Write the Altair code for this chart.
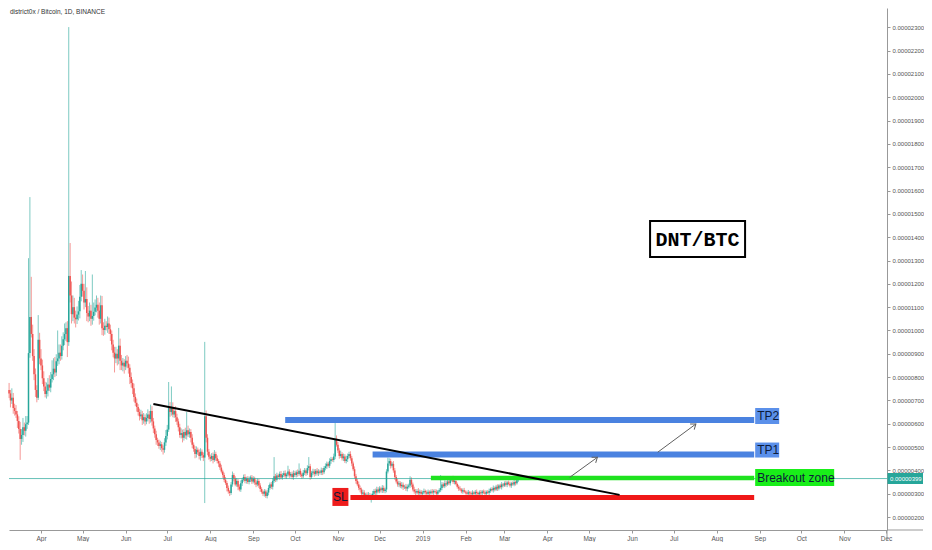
import altair as alt
import pandas as pd

# ---------------------------------------------------------------------------
# Data (prices in satoshi: 1 sat = 0.00000001 BTC), daily candles
# ---------------------------------------------------------------------------
first_day = "2018-03-09"
first_open = 745

closes = [
    # Mar 2018 (9th..31st)
    730, 700, 712, 668, 655, 640, 612, 578, 535, 552, 585, 570, 598, 605, 903, 1058, 985, 890, 812, 745, 712, 960, 880,
    # Apr 2018
    850, 795, 760, 728, 742, 768, 755, 792, 812, 836, 820, 868, 880, 905, 890, 935, 962, 985, 1010, 950,
    1234, 1150, 1070, 1100, 1055, 1048, 1068, 1082, 1145, 1200,
    # May 2018
    1170, 1120, 1135, 1075, 1060, 1085, 1050, 1062, 1080, 1098, 1110, 1085, 1050, 1108, 1010, 1002, 1020,
    1015, 1030, 1005, 985, 940, 905, 880, 900, 880, 935, 870, 850, 862, 845,
    # Jun 2018
    870, 858, 840, 800, 775, 752, 715, 690, 672, 650, 632, 640, 615, 628, 610, 625, 640, 620, 655, 610,
    580, 555, 530, 520, 505, 512, 495, 488, 520, 548,
    # Jul 2018
    575, 668, 650, 672, 640, 655, 628, 610, 585, 552, 560, 540, 565, 550, 572, 555, 565, 540, 510, 492,
    470, 488, 478, 462, 480, 465, 455, 632, 540, 480, 458,
    # Aug 2018
    450, 462, 445, 470, 452, 440, 430, 412, 395, 380, 360, 346, 325, 310, 303, 340, 380, 365, 340, 355,
    330, 318, 345, 360, 372, 355, 365, 350, 362, 370, 352,
    # Sep 2018
    365, 348, 340, 355, 335, 320, 308, 300, 310, 290, 305, 325, 340, 330, 355, 375, 360, 378, 372, 385,
    370, 380, 388, 375, 382, 395, 378, 385, 372, 388,
    # Oct 2018
    380, 392, 385, 398, 382, 375, 390, 400, 388, 410, 418, 372, 390, 395, 385, 398, 388, 395, 390, 400,
    392, 410, 418, 428, 420, 440, 448, 445, 460, 530, 510,
    # Nov 2018
    485, 462, 470, 452, 460, 440, 448, 462, 470, 452, 430, 405, 375, 355, 340, 325, 318, 300, 305, 292,
    296, 288, 295, 285, 290, 300, 312, 305, 318, 310,
    # Dec 2018
    322, 315, 325, 312, 318, 395, 430, 440, 420, 428, 400, 372, 352, 340, 345, 332, 338, 328, 330, 322,
    330, 335, 360, 340, 318, 310, 305, 312, 302, 308, 300,
    # Jan 2019
    305, 312, 306, 300, 308, 302, 310, 305, 312, 308, 300, 310, 315, 325, 340, 332, 345, 340, 352, 345,
    358, 365, 350, 355, 342, 330, 322, 318, 310, 315, 308,
    # Feb 2019
    305, 300, 306, 302, 298, 305, 300, 308, 303, 298, 306, 302, 310, 305, 300, 308, 304, 312, 320, 315,
    325, 318, 330, 322, 335, 328, 340, 335,
    # Mar 2019 (1st..11th)
    345, 338, 348, 342, 335, 345, 340, 350, 345, 358, 365,
]

# wick length above the candle body (sat)
up_wick = [
    30, 15, 40, 20, 18, 25, 15, 20, 30, 25, 40, 20, 35, 28, 407, 514, 172, 40, 30, 25, 20, 106, 30,
    40, 25, 30, 20, 35, 28, 40, 30, 60, 45, 50, 30, 120, 35, 35, 40, 30, 45, 25, 30, 1067, 141, 60, 50, 40, 30, 35, 45, 50, 59,
    40, 30, 120, 50, 30, 35, 25, 178, 40, 35, 40, 30, 35, 42, 40, 25, 30, 20, 30, 25, 20, 15, 20, 25, 30, 20, 76, 30, 25, 20, 15,
    20, 25, 30, 15, 20, 15, 20, 15, 18, 12, 15, 20, 15, 18, 12, 20, 22, 15, 27, 20, 15, 12, 15, 10, 12, 15, 10, 12, 18, 25,
    20, 111, 25, 88, 20, 15, 20, 15, 12, 15, 20, 15, 12, 18, 78, 20, 15, 12, 15, 10, 12, 15, 10, 12, 15, 10, 12, 319, 25, 15, 12,
    10, 12, 15, 17, 10, 12, 8, 10, 12, 8, 10, 12, 8, 10, 6, 10, 15, 8, 10, 12, 8, 10, 12, 8, 10, 12, 8, 10, 12, 8, 10,
    10, 8, 12, 10, 8, 10, 8, 6, 10, 8, 10, 12, 8, 10, 12, 82, 10, 12, 8, 10, 12, 8, 10, 12, 8, 25, 10, 8, 10, 12,
    10, 8, 12, 32, 10, 8, 12, 10, 8, 12, 39, 10, 8, 12, 10, 8, 12, 10, 8, 12, 10, 8, 12, 10, 8, 12, 10, 8, 12, 73, 20,
    12, 10, 15, 8, 12, 10, 15, 10, 10, 12, 10, 8, 12, 10, 8, 12, 10, 8, 12, 10, 8, 10, 12, 8, 10, 12, 8, 10, 12, 10,
    10, 8, 12, 10, 8, 10, 25, 12, 10, 8, 12, 10, 8, 12, 10, 8, 12, 10, 8, 12, 10, 8, 15, 10, 8, 12, 10, 8, 12, 10, 8,
    8, 10, 6, 8, 10, 6, 8, 10, 6, 8, 10, 6, 8, 55, 10, 8, 12, 10, 8, 12, 10, 8, 12, 10, 8, 6, 8, 10, 6, 8, 10,
    6, 8, 10, 6, 8, 10, 6, 8, 10, 6, 8, 10, 6, 8, 10, 6, 8, 10, 6, 8, 10, 6, 8, 10, 6, 8, 10, 6,
    8, 10, 6, 8, 10, 6, 8, 10, 6, 12, 17,
]

# wick length below the candle body (sat)
down_wick = [
    20, 30, 15, 25, 20, 15, 30, 20, 90, 25, 30, 20, 25, 20, 10, 20, 15, 20, 25, 30, 20, 10, 25,
    20, 25, 20, 15, 20, 25, 15, 20, 15, 25, 20, 15, 20, 25, 20, 15, 20, 25, 30, 64, 16, 30, 40, 30, 25, 35, 20, 25, 30, 20,
    25, 30, 20, 35, 25, 20, 30, 25, 20, 15, 20, 30, 25, 20, 30, 25, 20, 15, 25, 20, 30, 25, 20, 60, 20, 30, 25, 40, 20, 25, 30,
    15, 20, 25, 30, 20, 25, 20, 15, 20, 15, 18, 12, 20, 15, 18, 12, 15, 20, 15, 18, 20, 15, 20, 15, 12, 18, 15, 20, 12, 15,
    15, 10, 20, 15, 12, 15, 20, 15, 18, 12, 15, 20, 12, 15, 18, 12, 15, 20, 15, 12, 18, 15, 12, 15, 20, 12, 15, 195, 20, 15, 12,
    12, 10, 15, 8, 12, 10, 15, 10, 8, 12, 10, 8, 15, 10, 13, 8, 10, 12, 8, 10, 15, 8, 10, 12, 8, 10, 12, 8, 10, 12, 10,
    8, 10, 12, 8, 10, 12, 8, 10, 12, 8, 10, 12, 8, 10, 12, 8, 10, 8, 10, 12, 8, 10, 8, 10, 12, 8, 10, 8, 10, 12,
    8, 10, 12, 8, 10, 12, 8, 10, 12, 8, 10, 12, 8, 10, 12, 8, 10, 12, 8, 10, 12, 8, 10, 12, 8, 10, 12, 8, 10, 12, 8,
    10, 12, 8, 10, 12, 8, 10, 12, 8, 10, 12, 8, 10, 12, 8, 10, 12, 8, 10, 12, 8, 10, 12, 8, 23, 10, 8, 12, 10, 8,
    8, 10, 12, 8, 10, 12, 8, 10, 12, 8, 10, 12, 8, 10, 12, 8, 10, 12, 8, 10, 12, 8, 10, 12, 8, 10, 12, 8, 10, 12, 8,
    6, 8, 10, 6, 8, 10, 6, 8, 10, 6, 8, 10, 6, 8, 10, 6, 8, 10, 6, 8, 10, 6, 8, 10, 6, 8, 10, 6, 8, 10, 6,
    8, 6, 10, 8, 6, 10, 8, 6, 10, 8, 6, 10, 8, 6, 10, 8, 6, 10, 8, 6, 10, 8, 6, 10, 8, 6, 10, 8,
    6, 8, 10, 6, 8, 10, 6, 8, 10, 6, 8,
]

title_text = "district0x / Bitcoin, 1D, BINANCE"
pair_text = "DNT/BTC"
pair_box_date = "2019-07-18T05:00"
pair_box_value = 1392
last_price_label = "0.00000399"

# drawn levels: name, price (sat), start date
level_names = ["TP2", "TP1", "Breakout zone", "SL"]
level_values = [616, 468, 367, 284]
level_starts = ["2018-09-24", "2018-11-26", "2019-01-07", "2018-11-10"]
level_end = "2019-08-28"

trend_dates = ["2018-06-21", "2019-05-23"]
trend_values = [685, 295]

arrow_start_dates = ["2019-04-17", "2019-06-19T12:00"]
arrow_start_values = [370, 478]
arrow_end_dates = ["2019-05-07", "2019-07-17"]
arrow_end_values = [456, 599]

month_ticks = [f"2018-{m:02d}-01" for m in range(4, 13)] + [f"2019-{m:02d}-01" for m in range(1, 13)]
price_ticks = list(range(200, 2400, 100))

x_domain = ["2018-03-08T22:37", "2019-12-01T17:30"]
y_domain = [144.4, 2382.8]

# ---------------------------------------------------------------------------
SAT = 1e-8
UP = "#26a69a"
DOWN = "#ef5350"
BLUE = "#4a82e0"
AXIS_GREY = "#999"
W, H = 878, 522


def ms(s):
    return int(pd.Timestamp(s, tz="UTC").value // 10**6)


n = min(len(closes), len(up_wick), len(down_wick))
dates = pd.date_range(first_day, periods=n, freq="D", tz="UTC")
t_ms = (dates.asi8 // 10**6).tolist()
opens = [first_open] + closes[: n - 1]
rows = []
for i in range(n):
    o, c = opens[i], closes[i]
    rows.append(dict(
        t=t_ms[i],
        open=o * SAT, close=c * SAT,
        high=(max(o, c) + up_wick[i]) * SAT,
        low=(min(o, c) - down_wick[i]) * SAT,
        col=UP if c >= o else DOWN,
    ))
candles = pd.DataFrame(rows)

x_scale = alt.Scale(type="utc", domain=[ms(x_domain[0]), ms(x_domain[1])], nice=False)
y_scale = alt.Scale(domain=[y_domain[0] * SAT, y_domain[1] * SAT], nice=False, zero=False)

x_axis = alt.Axis(
    values=[ms(s) for s in month_ticks],
    labelExpr="utcmonth(datum.value) == 0 ? utcFormat(datum.value, '%Y') : utcFormat(datum.value, '%b')",
    grid=False, tickSize=3, labelPadding=2, labelFontSize=6.5, labelColor="#555", labelFlush=False,
    tickColor=AXIS_GREY, domainColor=AXIS_GREY, title=None, labelFont="Liberation Sans",
)
y_axis = alt.Axis(
    orient="right", values=[v * SAT for v in price_ticks], format=".8f",
    grid=False, tickSize=3, labelPadding=2, labelFontSize=6, labelColor="#555",
    tickColor=AXIS_GREY, domainColor=AXIS_GREY, title=None, labelFont="Liberation Sans",
)


def X(field):
    return alt.X(f"{field}:T", scale=x_scale, axis=x_axis, title=None)


def Y(field):
    return alt.Y(f"{field}:Q", scale=y_scale, axis=y_axis, title=None)


layers = []

# candles
layers.append(
    alt.Chart(candles).mark_rule(strokeWidth=1, opacity=0.6).encode(
        x=X("t"), y=Y("low"), y2="high", color=alt.Color("col:N", scale=None, legend=None)
    )
)
layers.append(
    alt.Chart(candles).mark_rule(strokeWidth=1.5).encode(
        x=X("t"), y=Y("open"), y2="close", color=alt.Color("col:N", scale=None, legend=None)
    )
)

# last price line
last_df = pd.DataFrame({"v": [closes[n - 1] * SAT], "label": [last_price_label]})
layers.append(alt.Chart(last_df).mark_rule(color=UP, strokeWidth=1, opacity=0.7).encode(y=Y("v")))

# levels with their labels
level_style = {
    "TP2": dict(color=BLUE, width=6, box="#5b90ea", side="right", y0=-12, y1=4, w=24),
    "TP1": dict(color=BLUE, width=6, box="#5b90ea", side="right", y0=-12, y1=3, w=24),
    "Breakout zone": dict(color="#1fe21f", width=4.5, box="#19ee19", side="right", y0=-9, y1=8, w=79),
    "SL": dict(color="#f01818", width=5, box="#ee1c1c", side="left", y0=-9.5, y1=8.5, w=16),
}
for name, val, start in zip(level_names, level_values, level_starts):
    st = level_style[name]
    df = pd.DataFrame({"start": [ms(start)], "end": [ms(level_end)], "v": [val * SAT], "name": [name]})
    layers.append(
        alt.Chart(df).mark_rule(color=st["color"], strokeWidth=st["width"], strokeCap="butt").encode(
            x=X("start"), x2="end", y=Y("v")
        )
    )
    anchor = "end" if st["side"] == "right" else "start"
    if st["side"] == "right":
        xo, x2o = 1, 1 + st["w"]
        tdx, talign = 3, "left"
    else:
        xo, x2o = -2 - st["w"], -2
        tdx, talign = -2 - st["w"] / 2, "center"
    layers.append(
        alt.Chart(df).mark_rect(color=st["box"], xOffset=xo, x2Offset=x2o,
                                yOffset=st["y0"], y2Offset=st["y1"]).encode(
            x=X(anchor), x2=anchor, y=Y("v"), y2="v"
        )
    )
    layers.append(
        alt.Chart(df).mark_text(align=talign, baseline="middle", dx=tdx, dy=(st["y0"] + st["y1"]) / 2,
                                fontSize=12, color="#0d1b3a", font="Liberation Sans").encode(
            x=X(anchor), y=Y("v"), text="name:N"
        )
    )

# falling trend line
trend_df = pd.DataFrame({"t0": [ms(trend_dates[0])], "t1": [ms(trend_dates[1])],
                         "v0": [trend_values[0] * SAT], "v1": [trend_values[1] * SAT]})
layers.append(
    alt.Chart(trend_df).mark_rule(color="black", strokeWidth=2).encode(
        x=X("t0"), x2="t1", y=Y("v0"), y2="v1"
    )
)

# arrows
arrow_df = pd.DataFrame({
    "t0": [ms(s) for s in arrow_start_dates], "t1": [ms(s) for s in arrow_end_dates],
    "v0": [v * SAT for v in arrow_start_values], "v1": [v * SAT for v in arrow_end_values],
})
layers.append(
    alt.Chart(arrow_df).mark_rule(color="#606060", strokeWidth=1).encode(
        x=X("t0"), x2="t1", y=Y("v0"), y2="v1"
    )
)
layers.append(
    alt.Chart(arrow_df).mark_point(shape="M-0.9,1.2L0,0L0.9,1.2", angle=54, size=60, filled=False,
                                   color="#606060", strokeWidth=1, opacity=1).encode(
        x=X("t1"), y=Y("v1")
    )
)

# DNT/BTC box
pair_df = pd.DataFrame({"t": [ms(pair_box_date)], "v": [pair_box_value * SAT], "label": [pair_text]})
layers.append(
    alt.Chart(pair_df).mark_rect(fill="white", stroke="black", strokeWidth=2,
                                 xOffset=-47.5, x2Offset=47.5, yOffset=-18, y2Offset=18).encode(
        x=X("t"), x2="t", y=Y("v"), y2="v"
    )
)
layers.append(
    alt.Chart(pair_df).mark_text(font="Liberation Mono", fontWeight="bold", fontSize=20,
                                 color="black", baseline="middle", align="center", dy=1).encode(
        x=X("t"), y=Y("v"), text="label:N"
    )
)

# last price tag on the price axis
layers.append(
    alt.Chart(last_df).mark_rect(color=UP, yOffset=-5.5, y2Offset=5.5).encode(
        x=alt.value(W + 0.5), x2=alt.value(W + 36), y=Y("v"), y2="v"
    )
)
layers.append(
    alt.Chart(last_df).mark_text(align="left", baseline="middle", fontSize=6, color="white",
                                 font="Liberation Sans").encode(
        x=alt.value(W + 3), y=Y("v"), text="label:N"
    )
)

# pane separators: time-axis line continues under the price scale, price-axis line under the time scale
layers.append(
    alt.Chart(pd.DataFrame({"k": [0]})).mark_rule(color=AXIS_GREY, strokeWidth=1).encode(
        x=alt.value(W), x2=alt.value(W + 36), y=alt.value(H)
    )
)
layers.append(
    alt.Chart(pd.DataFrame({"k": [0]})).mark_rule(color=AXIS_GREY, strokeWidth=1).encode(
        x=alt.value(W), y=alt.value(H), y2=alt.value(H + 11)
    )
)

# header text
layers.append(
    alt.Chart(pd.DataFrame({"label": [title_text]})).mark_text(
        align="left", baseline="middle", fontSize=6.5, color="#333", font="Liberation Sans"
    ).encode(x=alt.value(1), y=alt.value(3.5), text="label:N")
)

chart = alt.layer(*layers).properties(width=W, height=H, padding=0, background="white")
chart = chart.configure_view(stroke=None)
chart.save("out.html", embed_options={"renderer": "svg", "actions": False})
